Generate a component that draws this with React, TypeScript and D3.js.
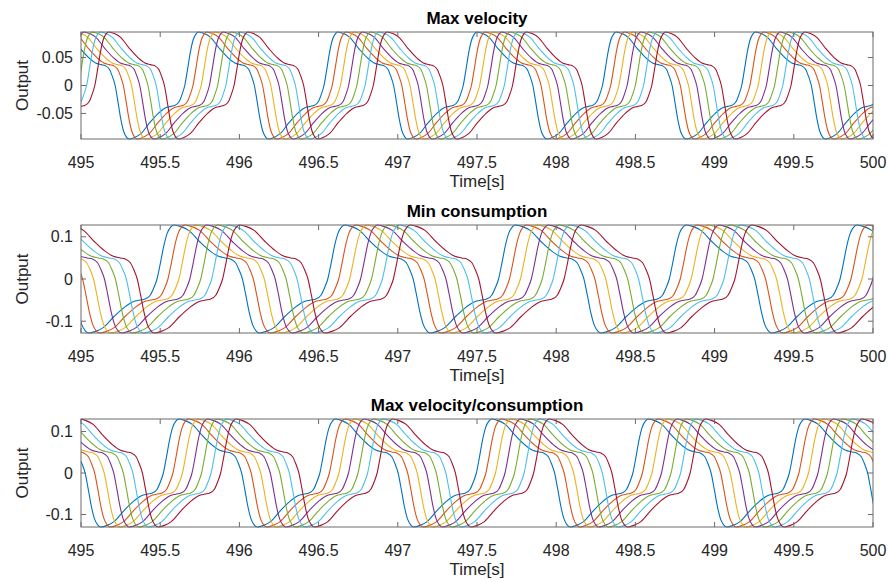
import React from "react";
import * as d3 from "d3";

// ---- data ----
const panelTitles = ["Max velocity", "Min consumption", "Max velocity/consumption"];
const amplitudes = [0.0957, 0.128, 0.13]; // peak output (= axis limit)
const periods = [0.879, 1.078, 0.988]; // seconds per cycle
const firstRise = [495.655, 495.48, 495.52]; // blue rising zero crossing
const colorLag = [0.059, 0.064, 0.061]; // lag between consecutive series (fraction of period)
// one half-cycle of the waveform (phase fraction, value relative to amplitude); second half mirrored
const shapePhase = [0, 0.02, 0.04, 0.06, 0.08, 0.1, 0.14, 0.185, 0.25, 0.31, 0.36, 0.4, 0.43, 0.46, 0.48];
const shapeValue = [0, 0.3, 0.62, 0.85, 0.96, 1.0, 0.97, 0.9, 0.69, 0.52, 0.42, 0.39, 0.37, 0.3, 0.17];
const xTicks = [495, 495.5, 496, 496.5, 497, 497.5, 498, 498.5, 499, 499.5, 500];
const yTicksList = [
  [-0.05, 0, 0.05],
  [-0.1, 0, 0.1],
  [-0.1, 0, 0.1],
];
const seriesColors = ["#0072BD", "#D95319", "#EDB120", "#7E2F8E", "#77AC30", "#4DBEEE", "#A2142F"];
const xDomain = [495, 500];

// ---- layout ----
const W = 888;
const H = 582;
const left = 81;
const right = 873;
const panelTop = [32, 225, 419];
const panelBottom = [139, 333, 527];
const FONT = "'Liberation Sans', Arial, Helvetica, sans-serif";
const TXT = "#262626";
const AX = "#6b6b6b";

function buildSeries(p: number, i: number): [number, number][] {
  const P = periods[p];
  const A = amplitudes[p];
  const rise0 = firstRise[p] + i * colorLag[p] * P;
  const pts: [number, number][] = [];
  const kMin = Math.floor((xDomain[0] - rise0) / P) - 1;
  const kMax = Math.ceil((xDomain[1] - rise0) / P) + 1;
  for (let k = kMin; k <= kMax; k++) {
    const base = rise0 + k * P;
    shapePhase.forEach((ph, j) => pts.push([base + ph * P, shapeValue[j] * A]));
    shapePhase.forEach((ph, j) => pts.push([base + (ph + 0.5) * P, -shapeValue[j] * A]));
  }
  pts.sort((a, b) => a[0] - b[0]);
  return pts;
}

function fmt(v: number) {
  if (v === 0) return "0";
  return String(v);
}

export default function App() {
  const x = d3.scaleLinear().domain(xDomain).range([left, right]);
  return (
    <svg
      width={W}
      height={H}
      style={{ position: "absolute", left: 0, top: 0, background: "#fff" }}
      fontFamily={FONT}
    >
      <rect x={0} y={0} width={W} height={H} fill="#fff" />
      {panelTitles.map((title, p) => {
        const A = amplitudes[p];
        const top = panelTop[p];
        const bottom = panelBottom[p];
        const y = d3.scaleLinear().domain([-A, A]).range([bottom, top]);
        const line = d3
          .line<[number, number]>()
          .x((d) => x(d[0]))
          .y((d) => y(d[1]))
          .curve(d3.curveMonotoneX);
        const clipId = `clip${p}`;
        const midY = (top + bottom) / 2;
        return (
          <g key={p}>
            <defs>
              <clipPath id={clipId}>
                <rect x={left} y={top - 1} width={right - left} height={bottom - top + 2} />
              </clipPath>
            </defs>
            <g clipPath={`url(#${clipId})`}>
              {seriesColors.map((c, i) => (
                <path
                  key={i}
                  d={line(buildSeries(p, i)) || ""}
                  fill="none"
                  stroke={c}
                  strokeWidth={1.1}
                />
              ))}
            </g>
            {/* box */}
            <rect x={left} y={top} width={right - left} height={bottom - top} fill="none" stroke={AX} strokeWidth={1} />
            {/* x ticks */}
            {xTicks.map((t) => (
              <g key={t}>
                <line x1={x(t)} x2={x(t)} y1={bottom} y2={bottom - 5} stroke={AX} />
                <line x1={x(t)} x2={x(t)} y1={top} y2={top + 5} stroke={AX} />
                <text x={x(t)} y={bottom + 29} textAnchor="middle" fontSize={16} fill={TXT}>
                  {fmt(t)}
                </text>
              </g>
            ))}
            {/* y ticks */}
            {yTicksList[p].map((t) => (
              <g key={t}>
                <line x1={left} x2={left + 5} y1={y(t)} y2={y(t)} stroke={AX} />
                <line x1={right} x2={right - 5} y1={y(t)} y2={y(t)} stroke={AX} />
                <text x={left - 8} y={y(t) + 5.5} textAnchor="end" fontSize={16} fill={TXT}>
                  {fmt(t)}
                </text>
              </g>
            ))}
            <text
              x={(left + right) / 2}
              y={top - 8}
              textAnchor="middle"
              fontSize={17}
              fontWeight="bold"
              fill="#000"
            >
              {title}
            </text>
            <text x={(left + right) / 2} y={bottom + 48} textAnchor="middle" fontSize={17} fill={TXT}>
              Time[s]
            </text>
            <text
              transform={`translate(${28},${midY}) rotate(-90)`}
              textAnchor="middle"
              fontSize={17}
              fill={TXT}
            >
              Output
            </text>
          </g>
        );
      })}
    </svg>
  );
}
